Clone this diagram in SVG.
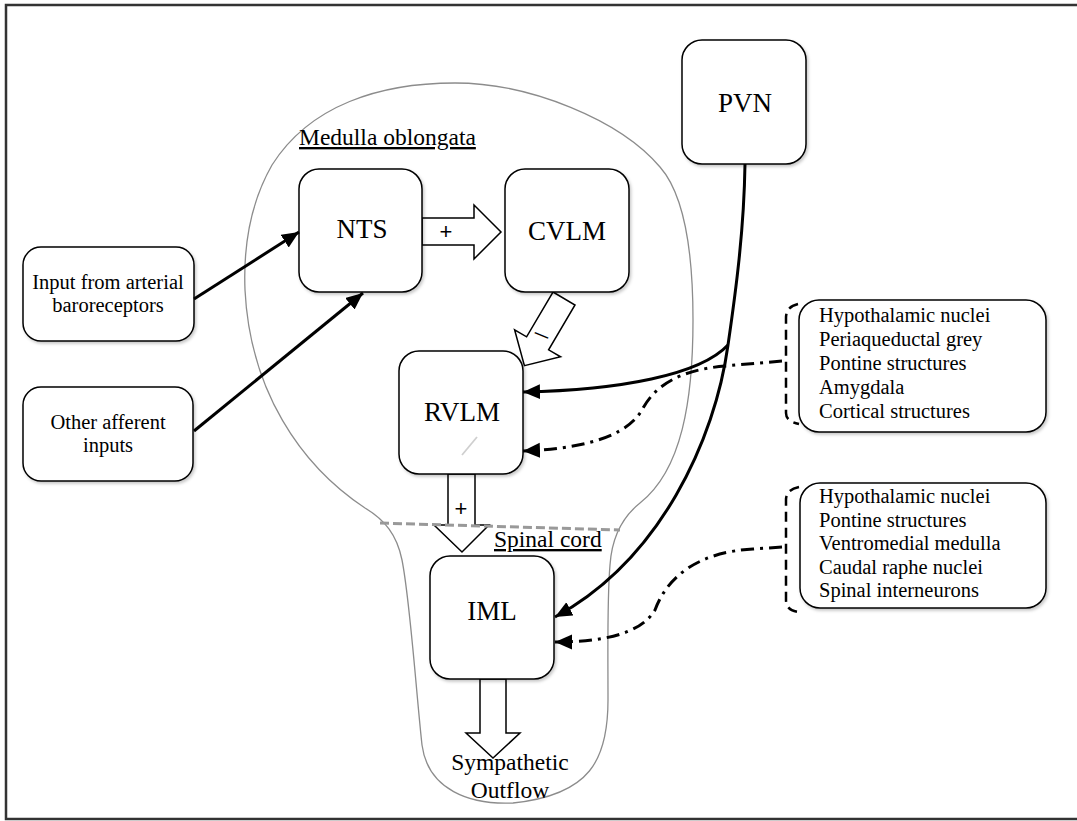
<svg xmlns="http://www.w3.org/2000/svg" width="1077" height="821" viewBox="0 0 1077 821">
<style>
.box{fill:#fff;stroke:#000;stroke-width:1.5;filter:url(#sh)}
.blk{fill:#fff;stroke:#000;stroke-width:1.5}
.lbl{font-family:"Liberation Serif","Times New Roman",serif;font-size:27px;text-anchor:middle;fill:#000}
.txt{font-family:"Liberation Serif","Times New Roman",serif;font-size:20.5px;fill:#000}
.mid{text-anchor:middle}
.reg{font-family:"Liberation Serif","Times New Roman",serif;font-size:23.5px;fill:#000;text-decoration:underline}
.out{font-family:"Liberation Serif","Times New Roman",serif;font-size:23.5px;fill:#000;text-anchor:middle}
.sign{font-family:"Liberation Sans",Arial,sans-serif;font-size:22px;text-anchor:middle;fill:#000}
.solid{fill:none;stroke:#000;stroke-width:3;marker-end:url(#ah)}
.dd{fill:none;stroke:#000;stroke-width:3;stroke-dasharray:13 6 3 6;marker-end:url(#ah)}
.brk{fill:none;stroke:#000;stroke-width:2.5;stroke-dasharray:10 6}
</style>
<defs>
<filter id="sh" x="-10%" y="-10%" width="125%" height="125%">
<feDropShadow dx="1.5" dy="2" stdDeviation="1.5" flood-color="#000" flood-opacity="0.22"/>
</filter>
<marker id="ah" markerUnits="userSpaceOnUse" markerWidth="18" markerHeight="16" refX="17" refY="7.5" orient="auto">
<path d="M0,0 L17,7.5 L0,15 Z" fill="#000"/>
</marker>
</defs>
<rect x="0" y="0" width="1077" height="821" fill="#fff"/>
<rect x="6" y="5" width="1090" height="814" fill="none" stroke="#333" stroke-width="2.5"/>

<g id="outline">
<path d="M 455 83 C 530 83, 620 120, 660 167 C 682 192, 693 240, 693 320 C 693 400, 682 470, 640 503 C 625 515, 612 535, 610 565 C 607 600, 608 650, 608 700 C 608 760, 590 795, 513 803 C 470 805, 428 790, 422 745 C 416 690, 410 600, 402 560 C 397 535, 385 520, 365 508 C 300 465, 250 390, 245 290 C 243 240, 252 200, 272 165 C 310 105, 380 83, 455 83 Z" fill="none" stroke="#8c8c8c" stroke-width="1.3"/>
</g>

<g id="labels-regions">
<text class="reg" x="299" y="145">Medulla oblongata</text>
<text class="reg" x="494" y="547">Spinal cord</text>
</g>

<g id="node-input-baro">
<rect class="box" x="23" y="247" width="171" height="94" rx="18"/>
<text class="txt mid" x="108" y="289">Input from arterial</text>
<text class="txt mid" x="108" y="312">baroreceptors</text>
</g>
<g id="node-other-afferent">
<rect class="box" x="23" y="387" width="170" height="94" rx="18"/>
<text class="txt mid" x="108" y="429">Other afferent</text>
<text class="txt mid" x="108" y="452">inputs</text>
</g>

<g id="block-arrows">
<path class="blk" d="M 422 218 L 474 218 L 474 205 L 501 232 L 474 259 L 474 245 L 422 245 Z"/>
<text class="sign" x="446" y="239">+</text>
<path class="blk" d="M 553 292 L 575 305 L 548.6 349.8 L 560.6 356.8 L 524.4 365.7 L 514.6 329.8 L 526.6 336.8 Z"/>
<text class="lbl" x="542" y="342" transform="rotate(22 542 334)" style="font-size:28px">–</text>
<path class="blk" d="M 448 474 L 448 525 L 434 525 L 462 552 L 489 525 L 475 525 L 475 474 Z"/>
<text class="sign" x="461" y="516">+</text>
<path class="blk" d="M 480 679 L 480 733 L 466 733 L 493 758 L 520 733 L 506 733 L 506 679 Z"/>
</g>

<g id="node-nts">
<rect class="box" x="299" y="169" width="123" height="123" rx="20"/>
<text class="lbl" x="362" y="238">NTS</text>
</g>
<g id="node-cvlm">
<rect class="box" x="505" y="169" width="124" height="123" rx="20"/>
<text class="lbl" x="567" y="240">CVLM</text>
</g>
<g id="node-rvlm">
<rect class="box" x="399" y="351" width="124" height="123" rx="20"/>
<text class="lbl" x="462" y="421">RVLM</text>
<line x1="462" y1="455" x2="477" y2="437" stroke="#cfcfcf" stroke-width="1.8"/>
</g>
<g id="node-iml">
<rect class="box" x="430" y="556" width="124" height="123" rx="20"/>
<text class="lbl" x="492" y="620">IML</text>
</g>
<g id="node-pvn">
<rect class="box" x="682" y="40" width="124" height="124" rx="20"/>
<text class="lbl" x="745" y="112">PVN</text>
</g>

<g id="node-supra">
<rect class="box" x="799" y="300" width="247" height="132" rx="20"/>
<text class="txt" x="819" y="322">Hypothalamic nuclei</text>
<text class="txt" x="819" y="346">Periaqueductal grey</text>
<text class="txt" x="819" y="370">Pontine structures</text>
<text class="txt" x="819" y="394">Amygdala</text>
<text class="txt" x="819" y="418">Cortical structures</text>
<path class="brk" d="M 798 304 C 790 306, 786 310, 786 318 L 786 413 C 786 419, 790 422, 799 424"/>
</g>
<g id="node-spinal-inputs">
<rect class="box" x="800" y="483" width="246" height="125" rx="20"/>
<text class="txt" x="819" y="503">Hypothalamic nuclei</text>
<text class="txt" x="819" y="527">Pontine structures</text>
<text class="txt" x="819" y="550">Ventromedial medulla</text>
<text class="txt" x="819" y="574">Caudal raphe nuclei</text>
<text class="txt" x="819" y="597">Spinal interneurons</text>
<path class="brk" d="M 799 487 C 790 489, 786 493, 786 500 L 786 600 C 786 607, 790 611, 799 612"/>
</g>

<g id="divider">
<line x1="380" y1="523" x2="620" y2="530" stroke="#999" stroke-width="3" stroke-dasharray="9 4"/>
</g>

<g id="connectors">
<path class="solid" d="M 194 299 L 299 232"/>
<path class="solid" d="M 194 431 L 363 293"/>
<path class="solid" d="M 745 164 C 744 230, 736 290, 728 345 C 715 440, 660 560, 555 617"/>
<path class="solid" d="M 728 345 C 700 375, 620 390, 523 392"/>
<path class="dd" d="M 782 361 L 725 366 C 680 370, 655 385, 642 410 C 630 430, 600 448, 523 451"/>
<path class="dd" d="M 782 547 L 753 549 C 700 552, 668 575, 655 610 C 640 635, 600 642, 555 642"/>
</g>

<g id="outflow-label">
<text class="out" x="510" y="770">Sympathetic</text>
<text class="out" x="510" y="798">Outflow</text>
</g>
</svg>
